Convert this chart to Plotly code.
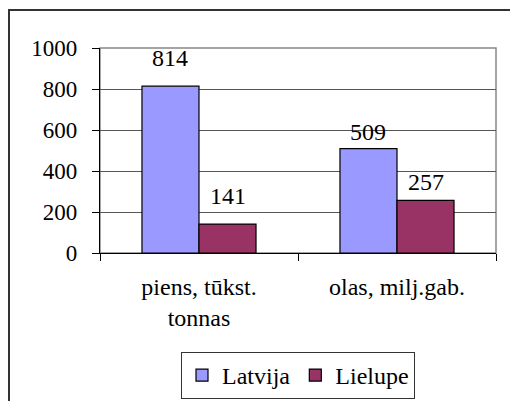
import plotly.graph_objects as go

categories = ["piens, tūkst.<br>tonnas", "olas, milj.gab."]
series_names = ["Latvija", "Lielupe"]
latvija = [814, 509]
lielupe = [141, 257]
y_ticks = [0, 200, 400, 600, 800, 1000]

colors = ["#9999FF", "#993366"]
FONT = "Liberation Serif"
FS = 24
BARGAP = 0.424
label_shift = [[16, 5], [16, 6]]  # px gap above bar per series, per category

fig = go.Figure()
for name, vals, col in zip(series_names, [latvija, lielupe], colors):
    fig.add_trace(go.Bar(
        x=categories, y=vals, name=name,
        marker=dict(color=col, line=dict(color="black", width=1.2)),
    ))

bw = (1 - BARGAP) / 2
annotations = []
for si, vals in enumerate([latvija, lielupe]):
    for ci, v in enumerate(vals):
        annotations.append(dict(
            x=ci + (si - 0.5) * bw, y=v, xref="x", yref="y",
            text=str(v), showarrow=False, yanchor="bottom",
            yshift=label_shift[si][ci] - 3,
            font=dict(family=FONT, size=FS, color="black"),
        ))

W, H = 510, 401
ML, MR, MT, MB = 100, 14, 48, 148
pw, ph = W - ML - MR, H - MT - MB

def px_x(p):
    return (p - ML) / pw

def px_y(p):
    return (H - MB - p) / ph

shapes = [
    dict(type="rect", xref="paper", yref="paper", x0=0, y0=0, x1=1, y1=1,
         line=dict(color="#888888", width=1.5), layer="below"),
    dict(type="rect", xref="paper", yref="paper",
         x0=px_x(9), y0=px_y(404), x1=px_x(514), y1=px_y(10),
         line=dict(color="#333333", width=2)),
]

fig.update_layout(
    width=W, height=H,
    margin=dict(l=ML, r=MR, t=MT, b=MB, autoexpand=False),
    paper_bgcolor="white", plot_bgcolor="white",
    font=dict(family=FONT, size=FS, color="black"),
    barmode="group", bargap=BARGAP, bargroupgap=0,
    showlegend=True,
    legend=dict(orientation="h", x=0.5, xanchor="center",
                y=px_y(352), yanchor="top",
                bordercolor="#333333", borderwidth=1,
                font=dict(family=FONT, size=FS, color="black"),
                itemwidth=30, tracegroupgap=0),
    annotations=annotations,
    shapes=shapes,
)
fig.update_xaxes(
    type="category", showline=True, linecolor="black", linewidth=1.2,
    ticks="outside", tickson="boundaries", ticklen=7, tickcolor="black",
    showgrid=False, ticklabelstandoff=12,
    tickfont=dict(family=FONT, size=FS, color="black"),
)
fig.update_yaxes(
    range=[0, 1000], tickvals=y_ticks, showline=True, linecolor="black",
    linewidth=1.2, ticks="outside", ticklen=7, tickcolor="black",
    showgrid=True, gridcolor="#555555", gridwidth=1, zeroline=False,
    ticklabelstandoff=10,
    tickfont=dict(family=FONT, size=23, color="black"),
)

fig.write_html(
    "out.html",
    config={"displayModeBar": False},
    post_script="document.body.style.margin='0';document.body.style.overflow='hidden';",
)
